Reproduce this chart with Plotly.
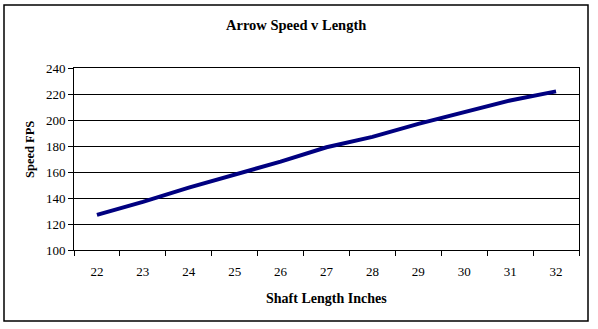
import plotly.graph_objects as go

lengths = ["22", "23", "24", "25", "26", "27", "28", "29", "30", "31", "32"]
speeds = [127, 137, 148, 158, 168, 179, 187, 197, 206, 215, 222]
y_ticks = [100, 120, 140, 160, 180, 200, 220, 240]

title_text = "Arrow Speed v Length"
x_title = "Shaft Length Inches"
y_title = "Speed FPS"

W, H = 598, 329
L, R, T, B = 74, 19, 68, 79
pw, ph = W - L - R, H - T - B

def px_x(x):
    return (x - L) / pw

def px_y(y):
    return (H - B - y) / ph

font_family = "Liberation Serif, Times New Roman, serif"

fig = go.Figure()
fig.add_trace(go.Scatter(
    x=lengths, y=speeds, mode="lines",
    line=dict(color="#000080", width=4),
    showlegend=False, hoverinfo="x+y",
))

fig.update_layout(
    width=W, height=H,
    margin=dict(l=L, r=R, t=T, b=B),
    paper_bgcolor="white", plot_bgcolor="white",
    font=dict(family=font_family, size=12, color="black"),
    showlegend=False,
    xaxis=dict(
        type="category", tickson="boundaries",
        range=[-0.5, len(lengths) - 0.5],
        showgrid=False, zeroline=False,
        showline=True, linecolor="black", linewidth=1, mirror=True,
        ticks="outside", ticklen=5, tickcolor="black", tickwidth=1,
        tickfont=dict(family=font_family, size=13, color="black"),
        ticklabelstandoff=9,
    ),
    yaxis=dict(
        range=[100, 240], tickmode="array", tickvals=y_ticks,
        ticktext=[str(v) for v in y_ticks],
        showgrid=True, gridcolor="black", gridwidth=1, zeroline=False,
        showline=True, linecolor="black", linewidth=1, mirror=True,
        ticks="outside", ticklen=5, tickcolor="black", tickwidth=1,
        tickfont=dict(family=font_family, size=13, color="black"),
    ),
    shapes=[dict(
        type="rect", xref="paper", yref="paper",
        x0=px_x(4), x1=px_x(588), y0=px_y(321), y1=px_y(5),
        line=dict(color="black", width=1.5), fillcolor="rgba(0,0,0,0)",
        layer="below",
    )],
    annotations=[
        dict(text="<b>" + title_text + "</b>", xref="paper", yref="paper",
             x=px_x(296), y=px_y(25), showarrow=False,
             font=dict(family=font_family, size=14.5, color="black"),
             xanchor="center", yanchor="middle"),
        dict(text="<b>" + x_title + "</b>", xref="paper", yref="paper",
             x=px_x(326), y=px_y(298), showarrow=False,
             font=dict(family=font_family, size=14, color="black"),
             xanchor="center", yanchor="middle"),
        dict(text="<b>" + y_title + "</b>", xref="paper", yref="paper",
             x=px_x(30), y=px_y(150), showarrow=False, textangle=-90,
             font=dict(family=font_family, size=12.5, color="black"),
             xanchor="center", yanchor="middle"),
    ],
)

fig.write_html("out.html")
